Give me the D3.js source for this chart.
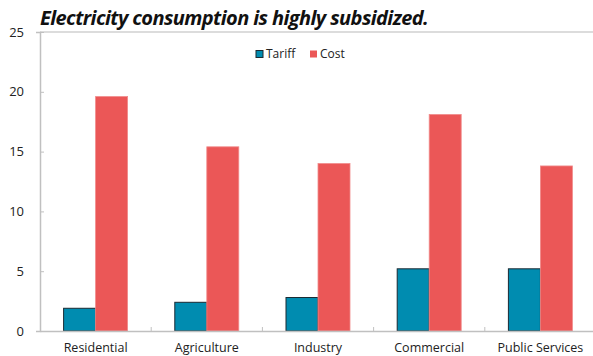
<!DOCTYPE html>
<html>
<head>
<meta charset="utf-8">
<script src="https://cdn.jsdelivr.net/npm/d3@7"></script>
<style>
  body { margin: 0; background: #fff; }
  svg { display: block; font-family: 'Open Sans', sans-serif; }
</style>
</head>
<body>
<svg width="593" height="356"></svg>
<script>
// input data
const categories = ['Residential', 'Agriculture', 'Industry', 'Commercial', 'Public Services'];
const seriesNames = ['Tariff', 'Cost'];
const tariff = [1.9, 2.4, 2.8, 5.2, 5.2];
const cost = [19.6, 15.4, 14.0, 18.1, 13.8];
const yTicks = [0, 5, 10, 15, 20, 25];

const colors = { Tariff: '#008cb0', Cost: '#eb5757' };

const svg = d3.select('svg');
const margin = { top: 32, right: -3, bottom: 25, left: 40 };
const width = 593 - margin.left - margin.right;
const height = 356 - margin.top - margin.bottom;

const g = svg.append('g').attr('transform', `translate(${margin.left} ${margin.top})`);

const x = d3.scaleBand().domain(categories).range([0, width]);
const xSub = d3.scaleBand().domain(seriesNames).range([-32, 32]);
const y = d3.scaleLinear().domain([0, 25]).range([height, 0]);

// top border
g.append('line')
  .attr('x1', 0).attr('x2', width)
  .attr('y1', 0).attr('y2', 0)
  .attr('stroke', '#d0d0d0').attr('stroke-width', 1.5);

// bars
const rows = categories.map((c, i) => ({ c, Tariff: tariff[i], Cost: cost[i] }));
const groups = g.selectAll('g.cat')
  .data(rows)
  .enter()
  .append('g')
  .attr('transform', d => `translate(${x(d.c) + x.bandwidth() / 2} 0)`);

groups.selectAll('rect')
  .data(d => seriesNames.map(s => ({ s, v: d[s] })))
  .enter()
  .append('rect')
  .attr('x', d => xSub(d.s))
  .attr('width', xSub.bandwidth())
  .attr('y', d => y(d.v))
  .attr('height', d => y(0) - y(d.v))
  .attr('fill', d => colors[d.s])
  .attr('stroke', d => d.s === 'Tariff' ? '#1a2a33' : '#f08a8a')
  .attr('stroke-width', d => d.s === 'Tariff' ? 1 : 0.8);

// y axis
const yAxis = g.append('g')
  .call(d3.axisLeft(y).tickValues(yTicks).tickSize(4).tickPadding(12));
yAxis.select('.domain').attr('stroke', '#c0c0c0').attr('stroke-width', 1.5);
yAxis.selectAll('.tick line').attr('stroke', '#c0c0c0').attr('x1', 0).attr('x2', 4);
yAxis.selectAll('.tick text').attr('font-size', 13).attr('fill', '#222').attr('font-family', 'Open Sans');

// x axis
const xAxis = g.append('g')
  .attr('transform', `translate(0 ${height})`)
  .call(d3.axisBottom(x).tickSize(0).tickPadding(12));
xAxis.select('.domain').attr('stroke', '#c0c0c0').attr('stroke-width', 1.5);
xAxis.selectAll('.tick text').attr('font-size', 12.5).attr('fill', '#222').attr('font-family', 'Open Sans');
// boundary ticks between categories
xAxis.selectAll('line.sep')
  .data(categories.slice(1))
  .enter()
  .append('line')
  .attr('class', 'sep')
  .attr('x1', d => x(d)).attr('x2', d => x(d))
  .attr('y1', 0).attr('y2', -4)
  .attr('stroke', '#c0c0c0');

// legend
const legend = svg.append('g').attr('transform', 'translate(256 58)');
const legendItems = legend.selectAll('g')
  .data(seriesNames)
  .enter()
  .append('g')
  .attr('transform', (d, i) => `translate(${i * 54} 0)`);
legendItems.append('rect')
  .attr('x', 0).attr('y', -7.5)
  .attr('width', 7).attr('height', 7)
  .attr('fill', d => colors[d])
  .attr('stroke', d => d === 'Tariff' ? '#1a2a33' : 'none');
legendItems.append('text')
  .attr('x', 10).attr('y', 0)
  .attr('font-size', 12)
  .attr('fill', '#222')
  .text(d => d);

// title
svg.append('text')
  .attr('x', 40).attr('y', 25)
  .attr('font-size', 20)
  .attr('font-weight', 'bold')
  .attr('font-style', 'italic')
  .attr('letter-spacing', -0.6)
  .attr('fill', '#111')
  .text('Electricity consumption is highly subsidized.');
</script>
</body>
</html>
